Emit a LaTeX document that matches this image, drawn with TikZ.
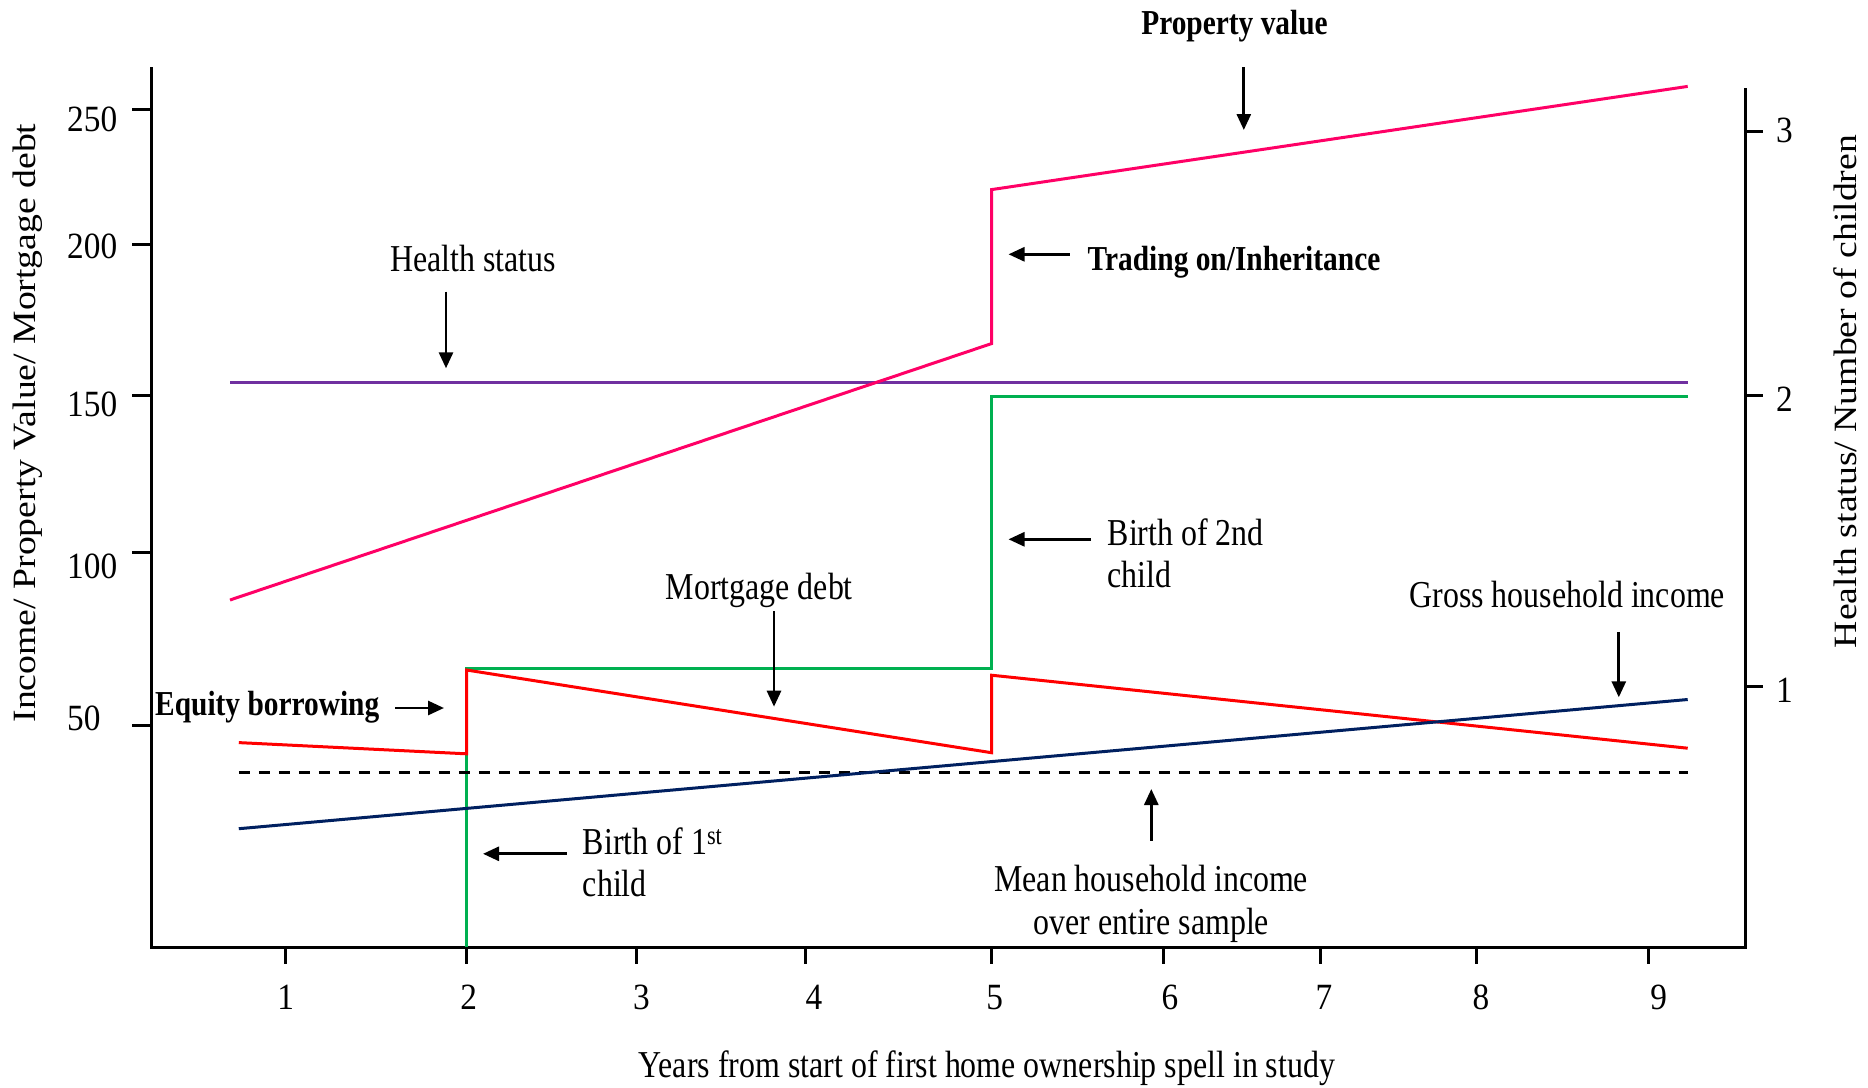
\documentclass[tikz,border=0pt]{standalone}
\usepackage{fontspec}
\setmainfont{Liberation Serif}
\newfontfamily\labfont[FakeStretch=0.84]{Liberation Serif}
\newfontfamily\rotfont[FakeStretch=1.16]{Liberation Serif}
\newfontfamily\tickfont[FakeStretch=0.9]{Liberation Serif}
\usetikzlibrary{arrows.meta}
\definecolor{propcol}{HTML}{FF0066}
\definecolor{healthcol}{HTML}{7030A0}
\definecolor{kidcol}{HTML}{00B050}
\definecolor{debtcol}{HTML}{FF0000}
\definecolor{inccol}{HTML}{002060}
\begin{document}
\begin{tikzpicture}[x=1pt,y=-1pt,
  axisline/.style={line width=3pt,black},
  tickline/.style={line width=3pt,black},
  dataline/.style={line width=3pt},
  annarrow/.style={line width=2.8pt,-{Triangle[length=16pt,width=14pt]}},
  lab/.style={inner sep=0pt,font=\labfont\fontsize{38}{42.5}\selectfont},
  labb/.style={inner sep=0pt,font=\labfont\bfseries\fontsize{35}{40}\selectfont},
  ticklab/.style={inner sep=0pt,font=\tickfont\fontsize{37}{40}\selectfont},
  rotlab/.style={inner sep=0pt,rotate=90,anchor=base,font=\rotfont\fontsize{32.5}{36}\selectfont}]
\useasboundingbox (0,0) rectangle (1868,1087);
\fill[white] (0,0) rectangle (1868,1087);

% axes
\draw[axisline] (151,67) -- (151,947) -- (1745,947) -- (1745,87.5);

% left ticks and labels
\foreach \yt/\yb/\txt/\nm in {109.3/131.7/250/l250, 244/258.5/200/l200, 395.7/416/150/l150, 552.4/578/100/l100, 725/730/50/l50}{
  \draw[tickline] (132,\yt) -- (151,\yt);
  \node[ticklab,anchor=base west] (\nm) at (67,\yb) {\txt};
}
% right ticks and labels
\foreach \yt/\yb/\txt/\nm in {131.4/142.5/3/r3, 395.7/411.5/2/r2, 686/702.5/1/r1}{
  \draw[tickline] (1745,\yt) -- (1763,\yt);
  \node[ticklab,anchor=base west] (\nm) at (1776,\yb) {\txt};
}
% x ticks and labels
\foreach \xt/\xl/\txt in {285.7/285.7/1, 466.5/468.8/2, 636/641.5/3, 805/814/4, 991.5/994.6/5, 1163/1170/6, 1320/1324/7, 1476.4/1481/8, 1648.6/1658.7/9}{
  \draw[tickline] (\xt,947) -- (\xt,964);
  \node[ticklab,anchor=base] (x\txt) at (\xl,1009) {\txt};
}

% axis titles
\node[rotlab] (ytitle) at (35,423) {Income/ Property Value/ Mortgage debt};
\node[rotlab] (y2title) at (1856,391.5) {Health status/ Number of children};
\node[lab,anchor=base] (xtitle) at (987,1077) {Years from start of first home ownership spell in study};

% data series
\draw[dataline,healthcol] (230,382) -- (1687.7,382);
\draw[dataline,propcol] (230,600) -- (991.5,343.6) -- (991.5,189.6) -- (1687.7,86.4);
\draw[dataline,kidcol] (466.5,947) -- (466.5,668.5) -- (991.5,668.5) -- (991.5,396.4) -- (1687.7,396.4);
\draw[dataline,debtcol] (238.8,742.6) -- (466.5,753.8) -- (466.5,670) -- (991.5,752.7) -- (991.5,675.2) -- (1687.7,748.2);
\draw[dataline,black,dash pattern=on 11pt off 9pt] (238.8,772.6) -- (1687.7,772.6);
\draw[dataline,inccol] (238.8,828.7) -- (1687.7,699.5);

% annotations
\node[labb,anchor=base] (propval) at (1234.5,34.3) {Property value};
\coordinate (propA) at (1243.8,67); \coordinate (propB) at (1243.8,130);
\draw[annarrow] (propA) -- (propB);

\node[labb,anchor=base west] (trading) at (1087.5,270.5) {Trading on/Inheritance};
\coordinate (tradA) at (1069.6,254.3); \coordinate (tradB) at (1008.5,254.3);
\draw[annarrow] (tradA) -- (tradB);

\node[lab,anchor=base] (health) at (473.2,271.7) {Health status};
\coordinate (healthA) at (446,291.7); \coordinate (healthB) at (446,368.3);
\draw[annarrow] (healthA) -- (healthB);

\node[lab,anchor=base west,align=left] (birth2) at (1107.6,587.5) {Birth of 2nd\\child};
\coordinate (b2A) at (1091,539.3); \coordinate (b2B) at (1008.5,539.3);
\draw[annarrow] (b2A) -- (b2B);

\node[lab,anchor=base] (mortgage) at (759.3,599) {Mortgage debt};
\coordinate (mortA) at (774,611); \coordinate (mortB) at (774,706.7);
\draw[annarrow] (mortA) -- (mortB);

\node[labb,anchor=base west] (equity) at (155,715) {Equity borrowing};
\coordinate (eqA) at (395,708); \coordinate (eqB) at (444,708);
\draw[annarrow] (eqA) -- (eqB);

\node[lab,anchor=base west,align=left] (birth1) at (582.7,896.5) {Birth of 1\textsuperscript{st}\\child};
\coordinate (b1A) at (566.5,853.8); \coordinate (b1B) at (483,853.8);
\draw[annarrow] (b1A) -- (b1B);

\node[lab,anchor=base,align=center] (mean) at (1151.2,934) {Mean household income\\over entire sample};
\coordinate (meanA) at (1151.3,840.7); \coordinate (meanB) at (1151.3,789);
\draw[annarrow] (meanA) -- (meanB);

\node[lab,anchor=base] (gross) at (1567.2,607.5) {Gross household income};
\coordinate (grossA) at (1618.8,631.8); \coordinate (grossB) at (1618.8,697.3);
\draw[annarrow] (grossA) -- (grossB);
\end{tikzpicture}
\end{document}
